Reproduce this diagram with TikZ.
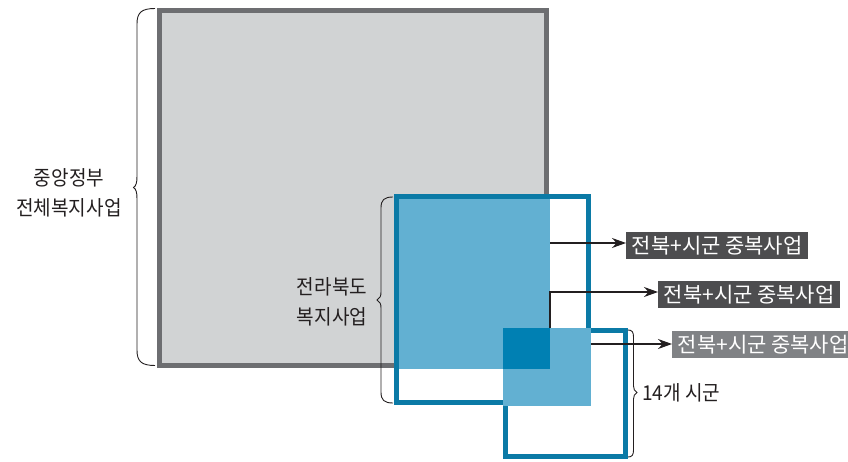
\documentclass[tikz,border=0pt]{standalone}
\usepackage{fontspec}
\newfontfamily\kr{Noto Sans CJK KR}[FakeStretch=0.93]
\newfontfamily\krt{Noto Sans CJK KR}
\usetikzlibrary{arrows.meta}
\definecolor{grayfill}{HTML}{D1D3D4}
\definecolor{grayline}{HTML}{6D6E71}
\definecolor{lightblue}{HTML}{62B0D2}
\definecolor{darkblue}{HTML}{0080B3}
\definecolor{blueline}{HTML}{0B7AA6}
\definecolor{boxdark}{HTML}{4D4D4F}
\definecolor{boxgray}{HTML}{808285}
\definecolor{ink}{HTML}{231F20}
\begin{document}
\begin{tikzpicture}[x=1pt,y=-1pt,
  sq/.style={draw, line width=5pt, inner sep=0pt, outer sep=0pt},
  lbl/.style={font=\kr\fontsize{20.5}{29.5}\selectfont, text=ink, align=center, inner sep=0pt},
  tag/.style={font=\krt\fontsize{21}{23}\selectfont, text=white, inner xsep=5.5pt, inner ysep=0pt, minimum height=27.5pt, anchor=west},
  conn/.style={draw=ink, line width=1.1pt, -{Stealth[length=14pt,width=10pt]}},
  brc/.style={draw=ink, line width=0.9pt}]
\useasboundingbox (0,0) rectangle (848,462);
% squares and overlaps
\node[sq, draw=grayline, fill=grayfill, minimum width=387pt, minimum height=355pt] (gov) at (353,188) {};
\fill[lightblue] (396.5,196.5) rectangle (550,368.5);
\node[sq, draw=blueline, minimum width=192pt, minimum height=206pt] (jb) at (492.5,299.5) {};
\node[sq, draw=blueline, minimum width=120.5pt, minimum height=126pt] (city) at (565.25,393) {};
\fill[lightblue] (502.5,327.5) rectangle (591,405.5);
\fill[darkblue] (502.5,327.5) rectangle (550,368.5);
% tags
\node[tag, fill=boxdark] (t1) at (626,245.5) {전북+시군 중복사업};
\node[tag, fill=boxdark] (t2) at (658,294.5) {전북+시군 중복사업};
\node[tag, fill=boxgray] (t3) at (672,344.5) {전북+시군 중복사업};
% connectors
\coordinate (s1) at (550,243);
\coordinate (s2) at (550,327.5);
\coordinate (s3) at (591,344);
\draw[conn] (s1) -- (s1 -| t1.west);
\draw[conn] (s2) |- (s2 |- 0,292) -- (t2.west |- 0,292);
\draw[conn] (s3) -- (s3 -| t3.west);
% braces
\draw[brc] (155,8.5) .. controls (141,8.5) and (137,13) .. (137,24) -- (137,176)
  .. controls (137,183) and (136,186) .. (133.5,187.5)
  .. controls (136,189) and (137,192) .. (137,199) -- (137,350)
  .. controls (137,361) and (141,365.5) .. (155,365.5);
\draw[brc] (393,197) .. controls (384,197) and (381,200) .. (381,208) -- (381,292)
  .. controls (381,296) and (380,298.5) .. (377,300)
  .. controls (380,301.5) and (381,304) .. (381,308) -- (381,392)
  .. controls (381,400) and (384,403) .. (393,403);
\draw[brc] (628,330) .. controls (632,330) and (633.5,332) .. (633.5,337) -- (633.5,386)
  .. controls (633.5,389) and (634.5,391) .. (637,392.5)
  .. controls (634.5,394) and (633.5,396) .. (633.5,399) -- (633.5,450)
  .. controls (633.5,455) and (632,457) .. (628,457);
% labels
\node[lbl] (govl) at (69,193) {중앙정부\\전체복지사업};
\node[lbl] (jbl) at (332,302) {전라북도\\복지사업};
\node[lbl, anchor=west] (cityl) at (642,393) {14개 시군};
\end{tikzpicture}
\end{document}
